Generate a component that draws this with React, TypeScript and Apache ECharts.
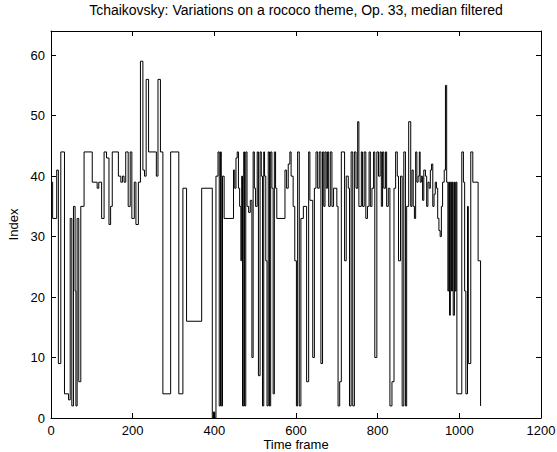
import React, { useEffect, useRef } from "react";
import * as echarts from "echarts";

const titleText = "Tchaikovsky: Variations on a rococo theme, Op. 33, median filtered";
const xLabel = "Time frame";
const yLabel = "Index";

// [time frame where the step starts, index value]
const indexSteps: [number, number][] = [
  [0, 39], [4, 33], [14, 41], [18, 9], [24, 44], [33, 4], [43, 3], [47, 33], [51, 2], [55, 35],
  [59, 21], [61, 2], [64, 33], [68, 6], [73, 35], [81, 44], [101, 39], [113, 38], [117, 39], [124, 33],
  [130, 44], [136, 43], [142, 32], [146, 35], [150, 44], [165, 40], [171, 39], [175, 40], [179, 39], [183, 44],
  [189, 35], [194, 44], [198, 33], [204, 39], [208, 32], [214, 39], [219, 59], [225, 41], [229, 40], [233, 56],
  [239, 44], [258, 40], [262, 56], [268, 44], [274, 4], [293, 44], [313, 4], [323, 38], [332, 16], [369, 38],
  [395, 0], [398, 1], [401, 0], [404, 40], [409, 44], [412, 2], [415, 44], [417, 2], [420, 40], [424, 33],
  [447, 41], [450, 38], [453, 43], [456, 44], [459, 38], [462, 35], [465, 26], [467, 40], [469, 2], [472, 44],
  [474, 2], [477, 44], [480, 35], [484, 34], [488, 36], [492, 10], [495, 44], [498, 38], [501, 35], [505, 44],
  [508, 7], [512, 44], [515, 40], [518, 2], [521, 44], [523, 40], [526, 26], [529, 2], [532, 44], [535, 2],
  [538, 44], [541, 38], [544, 4], [547, 44], [550, 38], [553, 33], [573, 41], [577, 38], [581, 42], [585, 44],
  [588, 40], [593, 35], [597, 26], [601, 2], [604, 44], [608, 2], [612, 33], [618, 35], [626, 6], [631, 44],
  [634, 36], [641, 10], [645, 38], [649, 44], [653, 38], [657, 44], [661, 9], [665, 44], [668, 35], [671, 44],
  [674, 38], [677, 44], [680, 35], [684, 44], [688, 35], [692, 38], [700, 35], [703, 2], [707, 6], [711, 44],
  [719, 26], [723, 40], [728, 38], [731, 2], [735, 44], [739, 2], [743, 44], [747, 38], [751, 49], [754, 35],
  [760, 44], [763, 35], [767, 44], [771, 33], [775, 35], [779, 44], [782, 35], [786, 38], [790, 44], [793, 10],
  [798, 44], [802, 40], [806, 44], [809, 35], [812, 44], [815, 38], [819, 44], [822, 35], [826, 38], [830, 2],
  [835, 6], [840, 38], [844, 44], [848, 40], [851, 26], [856, 40], [860, 2], [864, 44], [868, 2], [871, 35],
  [876, 49], [881, 35], [884, 41], [887, 35], [890, 33], [893, 44], [896, 39], [899, 40], [902, 44], [904, 39],
  [907, 40], [910, 36], [913, 41], [917, 40], [920, 35], [923, 39], [926, 38], [929, 41], [932, 42], [935, 35],
  [938, 37], [941, 39], [944, 38], [947, 33], [950, 31], [953, 30], [956, 35], [959, 39], [963, 41], [966, 55],
  [969, 39], [972, 21], [974, 39], [976, 17], [978, 39], [981, 21], [983, 39], [985, 17], [988, 39], [990, 21],
  [992, 39], [994, 4], [1006, 44], [1010, 39], [1013, 21], [1016, 4], [1020, 35], [1022, 9], [1028, 44], [1033, 39],
  [1046, 26], [1052, 2],
];

const xMin = 0;
const xMax = 1200;
const xStep = 200;
const yMin = 0;
const yMax = 64;
const yStep = 10;

const FONT = "'Liberation Sans', Arial, Helvetica, sans-serif";

export default function App() {
  const ref = useRef<HTMLDivElement>(null);
  useEffect(() => {
    if (!ref.current) return;
    const chart = echarts.init(ref.current, null, { renderer: "svg" });
    const line = { show: true, onZero: false, lineStyle: { color: "#000", width: 1 } };
    const tick = { show: true, inside: true, length: 5, lineStyle: { color: "#000", width: 1 } };
    chart.setOption({
      animation: false,
      backgroundColor: "#fff",
      textStyle: { fontFamily: FONT },
      grid: { left: 51, right: 16, top: 31, bottom: 34, containLabel: false, outerBoundsMode: "none" },
      xAxis: [
        {
          type: "value", min: xMin, max: xMax, interval: xStep, position: "bottom",
          axisLine: line, axisTick: tick, splitLine: { show: false },
          axisLabel: { color: "#000", fontSize: 13, margin: 6, fontFamily: FONT, formatter: (v: number) => String(v) },
        },
        {
          type: "value", min: xMin, max: xMax, interval: xStep, position: "top",
          axisLine: line, axisTick: tick, splitLine: { show: false }, axisLabel: { show: false },
        },
      ],
      yAxis: [
        {
          type: "value", min: yMin, max: yMax, interval: yStep, position: "left",
          axisLine: line, axisTick: tick, splitLine: { show: false },
          axisLabel: { color: "#000", fontSize: 13, margin: 6, showMaxLabel: false, fontFamily: FONT },
          name: yLabel, nameLocation: "middle", nameGap: 31,
          nameTextStyle: { color: "#000", fontSize: 13, fontFamily: FONT },
        },
        {
          type: "value", min: yMin, max: yMax, interval: yStep, position: "right",
          axisLine: line, axisTick: tick, splitLine: { show: false }, axisLabel: { show: false },
        },
      ],
      series: [
        {
          type: "line", step: "end", data: indexSteps, xAxisIndex: 0, yAxisIndex: 0,
          symbol: "none", showSymbol: false,
          lineStyle: { color: "#000", width: 1 },
        },
      ],
      graphic: [
        {
          type: "text", x: 296, y: 10,
          style: {
            text: titleText, fill: "#000", font: `14px ${FONT}`,
            align: "center", verticalAlign: "middle",
          },
        },
        {
          type: "text", x: 296, y: 444,
          style: {
            text: xLabel, fill: "#000", font: `13px ${FONT}`,
            align: "center", verticalAlign: "middle",
          },
        },
      ],
    });
    return () => chart.dispose();
  }, []);
  return <div ref={ref} style={{ position: "fixed", left: 0, top: 0, width: 557, height: 452 }} />;
}
